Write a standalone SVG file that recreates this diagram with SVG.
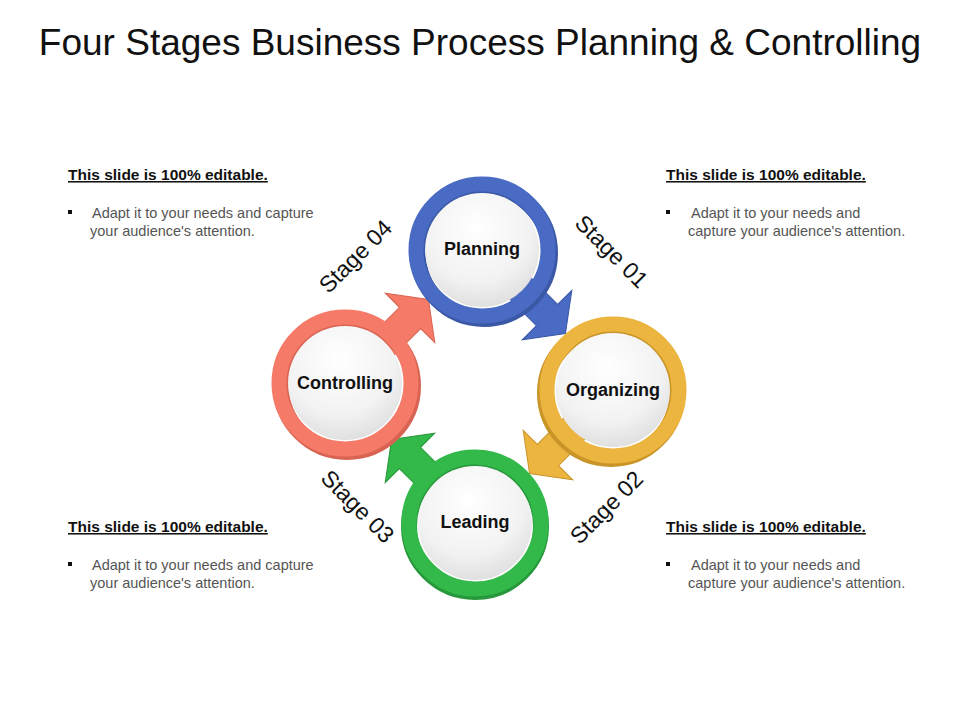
<svg xmlns="http://www.w3.org/2000/svg" width="960" height="720" viewBox="0 0 960 720">
<defs>
<radialGradient id="inner" cx="0.45" cy="0.3" r="0.8"><stop offset="0" stop-color="#ffffff"/><stop offset="0.6" stop-color="#f2f2f2"/><stop offset="1" stop-color="#d8d8d8"/></radialGradient>
<polygon id="arr" points="50,-15 92,-15 92,-35 118,0 92,35 92,15 50,15"/>
</defs>
<style>
.t{font-family:"Liberation Sans",Arial,sans-serif}
.lab{font-family:"Liberation Sans",Arial,sans-serif;font-weight:bold;font-size:18px;fill:#111;text-anchor:middle}
.stg{font-family:"Liberation Sans",Arial,sans-serif;font-size:23px;fill:#111;text-anchor:middle}
.hd{font-family:"Liberation Sans",Arial,sans-serif;font-weight:bold;font-size:15.5px;fill:#111;text-decoration:underline}
.bd{font-family:"Liberation Sans",Arial,sans-serif;font-size:14.5px;fill:#555}
</style>
<rect width="960" height="720" fill="#fff"/>
<text class="t" x="480" y="55" font-size="37" text-anchor="middle" fill="#111">Four Stages Business Process Planning &amp; Controlling</text>

<g id="connectors">
<use href="#arr" transform="translate(482,250) rotate(45)" fill="#4a6bc3" stroke="#3a58a8" stroke-width="1"/>
<use href="#arr" transform="translate(613,390) rotate(135)" fill="#ecb540" stroke="#c99528" stroke-width="1"/>
<use href="#arr" transform="translate(475,523) rotate(225)" fill="#33b84a" stroke="#27983b" stroke-width="1"/>
<use href="#arr" transform="translate(345,383) rotate(-45)" fill="#f57b68" stroke="#d96352" stroke-width="1"/>
</g>

<g id="planning">
<circle cx="484" cy="253" r="66" fill="none" stroke="#3b58a6" stroke-width="16"/>
<circle cx="482" cy="250" r="66" fill="none" stroke="#4a6bc3" stroke-width="15"/>
<circle cx="482" cy="250" r="57" fill="url(#inner)"/>
<text class="lab" x="482" y="255">Planning</text>
</g>
<g id="organizing">
<circle cx="611" cy="393" r="66" fill="none" stroke="#c99528" stroke-width="16"/>
<circle cx="613" cy="390" r="66" fill="none" stroke="#ecb540" stroke-width="15"/>
<circle cx="613" cy="390" r="57" fill="url(#inner)"/>
<text class="lab" x="613" y="396">Organizing</text>
</g>
<g id="leading">
<circle cx="475" cy="526" r="66" fill="none" stroke="#27983b" stroke-width="16"/>
<circle cx="475" cy="523" r="66" fill="none" stroke="#33b84a" stroke-width="15"/>
<circle cx="475" cy="523" r="57" fill="url(#inner)"/>
<text class="lab" x="475" y="528">Leading</text>
</g>
<g id="controlling">
<circle cx="347" cy="386" r="66" fill="none" stroke="#d96352" stroke-width="16"/>
<circle cx="345" cy="383" r="66" fill="none" stroke="#f57b68" stroke-width="15"/>
<circle cx="345" cy="383" r="57" fill="url(#inner)"/>
<text class="lab" x="345" y="389">Controlling</text>
</g>

<text class="stg" transform="translate(606,257) rotate(45)">Stage 01</text>
<text class="stg" transform="translate(612,513) rotate(-45)">Stage 02</text>
<text class="stg" transform="translate(352,512) rotate(45)">Stage 03</text>
<text class="stg" transform="translate(361,262) rotate(-45)">Stage 04</text>

<g id="note-tl">
<text class="hd" x="68" y="180">This slide is 100% editable.</text>
<rect x="68" y="210" width="4" height="4" fill="#111"/>
<text class="bd" x="92" y="218">Adapt it to your needs and capture</text>
<text class="bd" x="90" y="236">your audience's attention.</text>
</g>
<g id="note-tr">
<text class="hd" x="666" y="180">This slide is 100% editable.</text>
<rect x="666" y="210" width="4" height="4" fill="#111"/>
<text class="bd" x="691" y="218">Adapt it to your needs and</text>
<text class="bd" x="688" y="236">capture your audience's attention.</text>
</g>
<g id="note-bl">
<text class="hd" x="68" y="532">This slide is 100% editable.</text>
<rect x="68" y="562" width="4" height="4" fill="#111"/>
<text class="bd" x="92" y="570">Adapt it to your needs and capture</text>
<text class="bd" x="90" y="588">your audience's attention.</text>
</g>
<g id="note-br">
<text class="hd" x="666" y="532">This slide is 100% editable.</text>
<rect x="666" y="562" width="4" height="4" fill="#111"/>
<text class="bd" x="691" y="570">Adapt it to your needs and</text>
<text class="bd" x="688" y="588">capture your audience's attention.</text>
</g>
</svg>
